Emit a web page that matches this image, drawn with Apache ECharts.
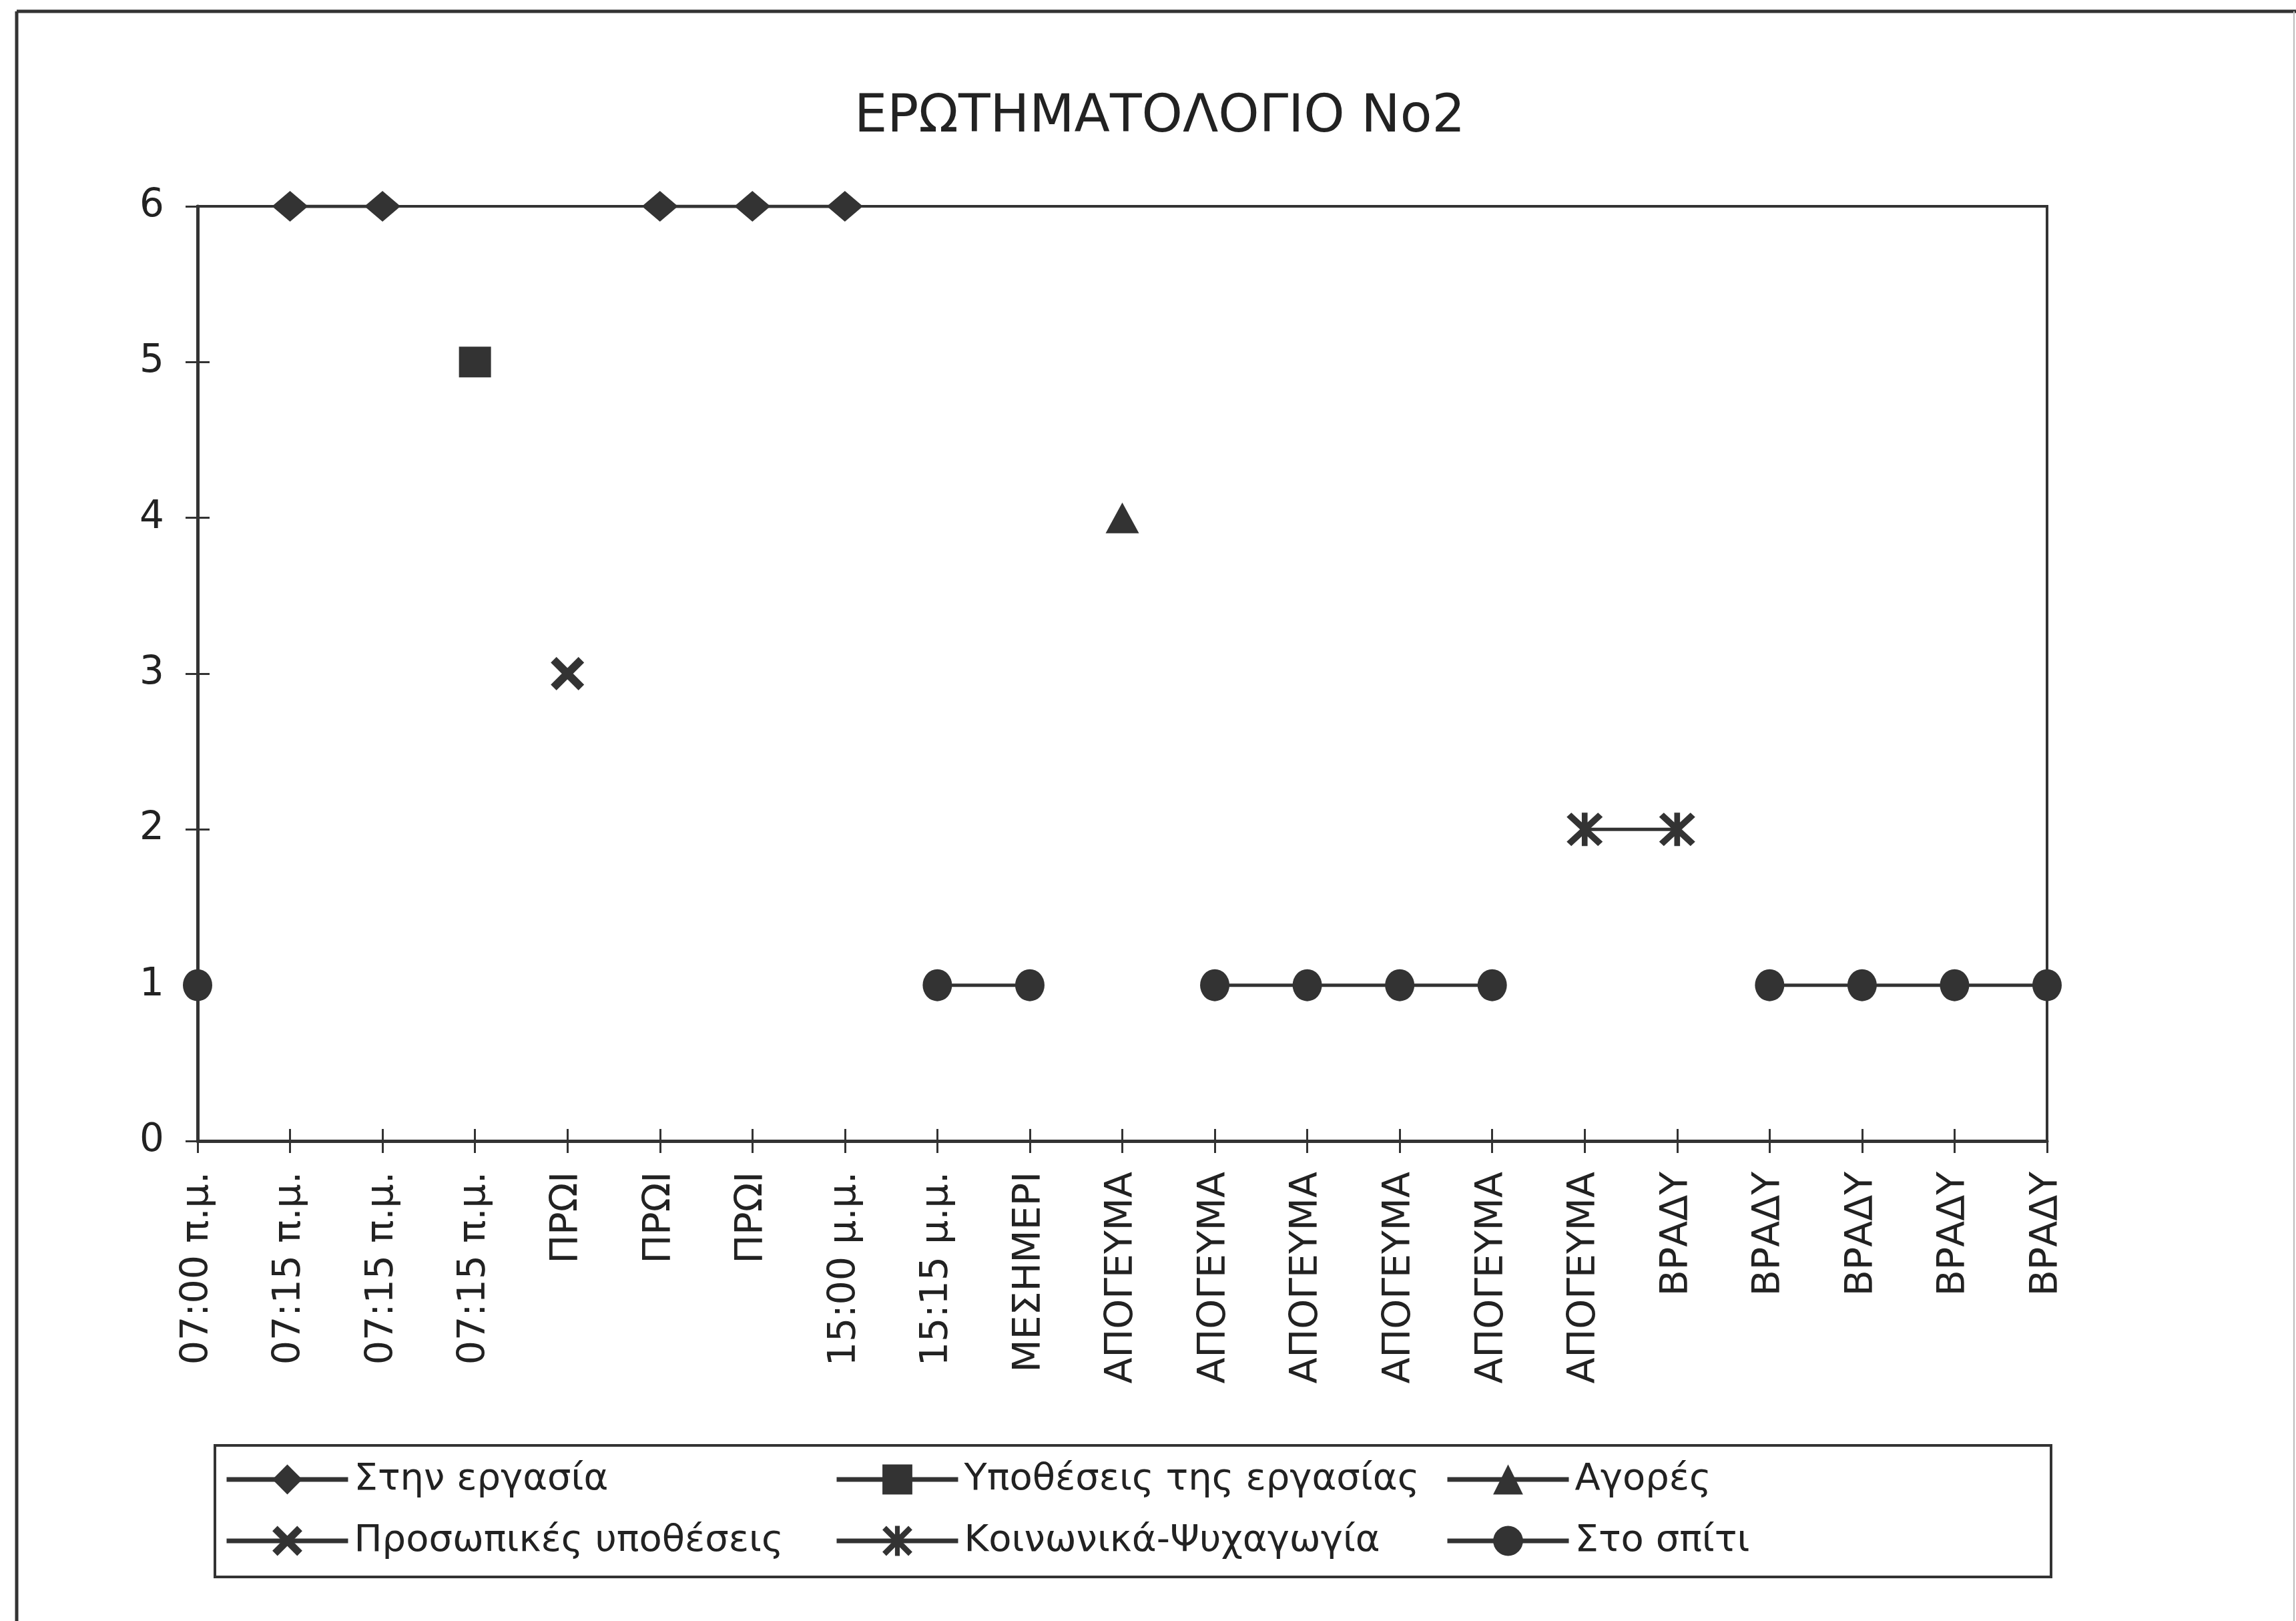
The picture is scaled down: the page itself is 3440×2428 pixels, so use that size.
<!DOCTYPE html>
<html>
<head>
<meta charset="utf-8">
<script src="https://cdn.jsdelivr.net/npm/echarts@6/dist/echarts.min.js"></script>
<style>
html,body{margin:0;padding:0;background:#fff;}
#chart{width:3440px;height:2428px;}
</style>
</head>
<body>
<div id="chart"></div>
<script>
// ---- data ----
var categories = ['07:00 π.μ.','07:15 π.μ.','07:15 π.μ.','07:15 π.μ.','ΠΡΩΙ','ΠΡΩΙ','ΠΡΩΙ','15:00 μ.μ.','15:15 μ.μ.','ΜΕΣΗΜΕΡΙ','ΑΠΟΓΕΥΜΑ','ΑΠΟΓΕΥΜΑ','ΑΠΟΓΕΥΜΑ','ΑΠΟΓΕΥΜΑ','ΑΠΟΓΕΥΜΑ','ΑΠΟΓΕΥΜΑ','ΒΡΑΔΥ','ΒΡΑΔΥ','ΒΡΑΔΥ','ΒΡΑΔΥ','ΒΡΑΔΥ'];
var seriesNames = ['Στην εργασία','Υποθέσεις της εργασίας','Αγορές','Προσωπικές υποθέσεις','Κοινωνικά-Ψυχαγωγία','Στο σπίτι'];
var work      = [null,6,6,null,null,6,6,6,null,null,null,null,null,null,null,null,null,null,null,null,null];
var workTasks = [null,null,null,5,null,null,null,null,null,null,null,null,null,null,null,null,null,null,null,null,null];
var shopping  = [null,null,null,null,null,null,null,null,null,null,4,null,null,null,null,null,null,null,null,null,null];
var personal  = [null,null,null,null,3,null,null,null,null,null,null,null,null,null,null,null,null,null,null,null,null];
var social    = [null,null,null,null,null,null,null,null,null,null,null,null,null,null,null,2,2,null,null,null,null];
var home      = [1,null,null,null,null,null,null,null,1,1,null,1,1,1,1,null,null,1,1,1,1];
var yTicks = [0,1,2,3,4,5,6];

var INK = '#333333';
var TXT = '#222222';
var FONT = 'DejaVu Sans';

var xSym = 'path://M0,17 L17,0 L100,83 L83,100 Z M83,0 L100,17 L17,100 L0,83 Z';
var starSym = 'path://M0,13 L13,0 L100,87 L87,100 Z M87,0 L100,13 L13,100 L0,87 Z M42,0 L58,0 L58,100 L42,100 Z';

function mk(name, data, symbol, size) {
  return {
    name: name, type: 'line', data: data,
    symbol: symbol, symbolSize: size, showAllSymbol: true,
    connectNulls: false,
    lineStyle: {color: INK, width: 5},
    itemStyle: {color: INK, borderWidth: 0},
    emphasis: {disabled: true},
    animation: false, z: 5
  };
}

var chart = echarts.init(document.getElementById('chart'), null, {renderer: 'canvas'});

var legendPos = [
  [336, 2188], [1250, 2188], [2165, 2188],
  [336, 2280], [1250, 2280], [2165, 2280]
];
var legends = seriesNames.map(function (n, i) {
  return {
    data: [n], left: legendPos[i][0], top: legendPos[i][1],
    orient: 'horizontal', padding: 0,
    itemWidth: 182, itemHeight: 56,
    lineStyle: {width: 7},
    selectedMode: false,
    textStyle: {fontFamily: FONT, fontSize: 56, color: TXT, padding: [0,0,0,4]}
  };
});

chart.setOption({
  animation: false,
  backgroundColor: '#ffffff',
  title: {
    text: 'ΕΡΩΤΗΜΑΤΟΛΟΓΙΟ Νο2',
    left: 1280, top: 138, padding: 0,
    textStyle: {fontFamily: FONT, fontSize: 78, fontWeight: 'normal', color: TXT}
  },
  legend: legends,
  grid: {
    left: 296, right: 373, top: 309, bottom: 719,
    show: true, borderColor: INK, borderWidth: 4, backgroundColor: 'transparent'
  },
  xAxis: [{
    type: 'category', data: categories, boundaryGap: false, position: 'bottom',
    axisLine: {lineStyle: {color: INK, width: 5}},
    axisTick: {show: true, length: 18, lineStyle: {color: INK, width: 3}, alignWithLabel: true},
    axisLabel: {rotate: 90, margin: 46, interval: 0, fontFamily: FONT, fontSize: 57, color: TXT},
    splitLine: {show: false}
  }, {
    type: 'category', data: categories, boundaryGap: false, position: 'bottom',
    axisLine: {show: false},
    axisTick: {show: true, inside: true, length: 18, lineStyle: {color: INK, width: 3}},
    axisLabel: {show: false},
    splitLine: {show: false}
  }],
  yAxis: [{
    type: 'value', min: yTicks[0], max: yTicks[yTicks.length - 1], interval: 1,
    axisLine: {show: true, lineStyle: {color: INK, width: 5}},
    axisTick: {show: true, length: 18, lineStyle: {color: INK, width: 3}},
    axisLabel: {margin: 50, fontFamily: FONT, fontSize: 58, color: TXT},
    splitLine: {show: false}
  }, {
    type: 'value', min: yTicks[0], max: yTicks[yTicks.length - 1], interval: 1, position: 'left',
    axisLine: {show: false},
    axisTick: {show: true, inside: true, length: 18, lineStyle: {color: INK, width: 3}},
    axisLabel: {show: false},
    splitLine: {show: false}
  }],
  graphic: [
    {type: 'line', shape: {x1: 25, y1: 17, x2: 3440, y2: 17}, style: {stroke: INK, lineWidth: 5}, silent: true},
    {type: 'line', shape: {x1: 25, y1: 17, x2: 25, y2: 2428}, style: {stroke: INK, lineWidth: 5}, silent: true},
    {type: 'line', shape: {x1: 3437, y1: 17, x2: 3437, y2: 2428}, style: {stroke: '#bbbbbb', lineWidth: 2}, silent: true},
    {type: 'rect', shape: {x: 322, y: 2165, width: 2751, height: 197}, style: {fill: 'none', stroke: INK, lineWidth: 4}, silent: true, z: -1}
  ],
  series: [
    mk(seriesNames[0], work, 'diamond', [54, 46]),
    mk(seriesNames[1], workTasks, 'rect', [48, 46]),
    mk(seriesNames[2], shopping, 'triangle', [50, 46]),
    mk(seriesNames[3], personal, xSym, [50, 50]),
    mk(seriesNames[4], social, starSym, [54, 50]),
    mk(seriesNames[5], home, 'circle', [44, 48])
  ]
});
</script>
</body>
</html>
